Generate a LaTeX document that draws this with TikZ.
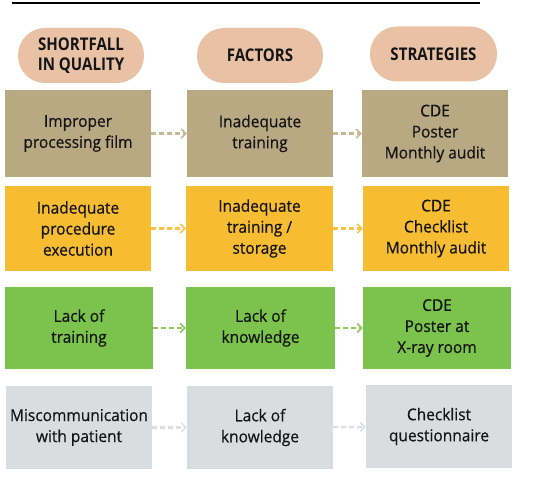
\documentclass[tikz,border=0pt]{standalone}
\usepackage{fontspec}
\setmainfont{Open Sans}[FakeBold=0.4]
\newfontfamily\bodyfont[FakeStretch=0.95, FakeBold=0.5]{Open Sans}
\newfontfamily\headfont[FakeStretch=0.86]{Open Sans Bold}
\usetikzlibrary{arrows.meta}

\definecolor{pillc}{HTML}{E9C1A5}
\definecolor{tanc}{HTML}{B8A983}
\definecolor{tanarr}{HTML}{C8B893}
\definecolor{goldc}{HTML}{F6BD33}
\definecolor{goldarr}{HTML}{F7C448}
\definecolor{greenc}{HTML}{7BC34C}
\definecolor{greenarr}{HTML}{8ACB5E}
\definecolor{greyc}{HTML}{D9DDE0}
\definecolor{greyarr}{HTML}{DDE0E3}
\definecolor{inkc}{HTML}{151515}

\begin{document}
\begin{tikzpicture}[x=1pt, y=1pt,
    pill/.style={fill=pillc, rounded corners=27pt, minimum width=126pt, minimum height=55pt,
        align=center, text=inkc, font=\headfont\fontsize{17.5}{20}\selectfont},
    box/.style={minimum width=146pt, align=center, text=inkc,
        font=\bodyfont\fontsize{16.3}{21}\selectfont},
    flow/.style={dashed, dash pattern=on 5pt off 3pt, line width=2.2pt,
        -{Straight Barb[length=4.5pt, width=9pt, line width=1.5pt]}}]
    \useasboundingbox (0,0) rectangle (553,477);

    % Title underline (cut off at the top)
    \draw[line width=1.4pt] (12,474) -- (480,474);

    % Column headers
    \node[pill] (shortfall) at (81,421.5) {SHORTFALL\\IN QUALITY};
    \node[pill] (factors) at (260,421.5) {FACTORS};
    \node[pill, minimum width=127pt] (strategies) at (433.5,423) {STRATEGIES};

    % Row 1
    \node[box, fill=tanc, minimum height=87pt] (sq1) at (78,343.5) {Improper\\processing film};
    \node[box, fill=tanc, minimum height=87pt] (fa1) at (260,343.5) {Inadequate\\training};
    \node[box, fill=tanc, minimum height=87pt] (st1) at (435,343.5) {CDE\\Poster\\Monthly audit};
    \draw[flow, tanarr] (sq1) -- (fa1);
    \draw[flow, tanarr] (fa1) -- (st1);

    % Row 2
    \node[box, fill=goldc, minimum height=85pt] (sq2) at (78,248.5) {Inadequate\\procedure\\execution};
    \node[box, fill=goldc, minimum height=85pt, minimum width=147pt] (fa2) at (259.5,248.5) {Inadequate\\training /\\storage};
    \node[box, fill=goldc, minimum height=85pt] (st2) at (436,248.5) {CDE\\Checklist\\Monthly audit};
    \draw[flow, goldarr] (sq2) -- (fa2);
    \draw[flow, goldarr] (fa2) -- (st2);

    % Row 3
    \node[box, fill=greenc, minimum height=82pt, minimum width=148pt] (sq3) at (79,149) {Lack of\\training};
    \node[box, fill=greenc, minimum height=82pt, minimum width=149pt] (fa3) at (260.5,149) {Lack of\\knowledge};
    \node[box, fill=greenc, minimum height=82pt, minimum width=148pt] (st3) at (437,149) {CDE\\Poster at\\X-ray room};
    \draw[flow, greenarr] (sq3) -- (fa3);
    \draw[flow, greenarr] (fa3) -- (st3);

    % Row 4
    \node[box, fill=greyc, minimum height=83pt] (sq4) at (79,49.5) {Miscommunication\\with patient};
    \node[box, fill=greyc, minimum height=83pt] (fa4) at (260,49.5) {Lack of\\knowledge};
    \node[box, fill=greyc, minimum height=83pt] (st4) at (439,50.5) {Checklist\\questionnaire};
    \draw[flow, greyarr] (sq4) -- (fa4);
    \draw[flow, greyarr] (fa4) -- (st4);
\end{tikzpicture}
\end{document}
